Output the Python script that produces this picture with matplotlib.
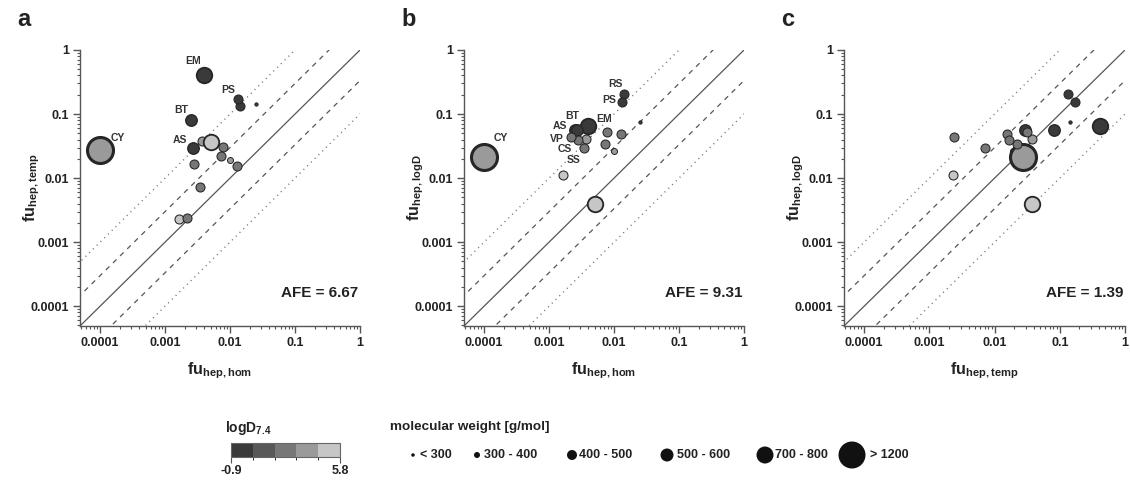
import numpy as np
import matplotlib
matplotlib.use('Agg')
import matplotlib.pyplot as plt
from matplotlib.colors import ListedColormap, BoundaryNorm
from matplotlib.ticker import FixedLocator, LogLocator, NullFormatter
import matplotlib.colorbar as mcolorbar

plt.rcParams['font.family'] = ['Liberation Sans', 'DejaVu Sans']
plt.rcParams['font.weight'] = 'bold'
plt.rcParams['mathtext.fontset'] = 'custom'
plt.rcParams['mathtext.rm'] = 'Liberation Sans:bold'
plt.rcParams['mathtext.bf'] = 'Liberation Sans:bold'
plt.rcParams['mathtext.it'] = 'Liberation Sans:bold'

# ---------------- data ----------------
compounds = ['', 'CY', 'EM', 'RS', 'PS', '', 'BT', 'AS', '', '', '', '', '', '', 'CS', 'SS', 'VP']
fu_hom = [0.0100, 0.0001, 0.0039, 0.0144, 0.0134, 0.0252, 0.0025, 0.0027, 0.00375, 0.0050,
          0.0077, 0.0073, 0.0126, 0.0028, 0.0034, 0.00166, 0.0022]
fu_temp = [0.0194, 0.0275, 0.41, 0.134, 0.171, 0.145, 0.081, 0.0295, 0.0374, 0.037,
           0.031, 0.022, 0.0153, 0.0168, 0.0072, 0.0023, 0.0024]
fu_logd = [0.0268, 0.0214, 0.064, 0.206, 0.155, 0.075, 0.057, 0.0555, 0.0405, 0.0040,
           0.0516, 0.0341, 0.0487, 0.0397, 0.0295, 0.0113, 0.0436]
logD74 = [3.6, 3.4, 0.0, -0.3, -0.8, 0.2, 0.3, 0.4, 3.6, 5.0,
          2.5, 2.3, 2.0, 2.4, 2.6, 4.8, 2.5]
mol_weight = [350, 1202, 734, 481, 424, 250, 551, 558, 450, 750,
              450, 450, 450, 420, 430, 460, 455]

panel_letters = ['a', 'b', 'c']
afe_values = ['6.67', '9.31', '1.39']
x_labels = [r'$\mathbf{fu}_{\mathbf{hep,hom}}$', r'$\mathbf{fu}_{\mathbf{hep,hom}}$', r'$\mathbf{fu}_{\mathbf{hep,temp}}$']
y_labels = [r'$\mathbf{fu}_{\mathbf{hep,temp}}$', r'$\mathbf{fu}_{\mathbf{hep,logD}}$', r'$\mathbf{fu}_{\mathbf{hep,logD}}$']
tick_values = [1e-4, 1e-3, 1e-2, 1e-1, 1]
tick_labels = ['0.0001', '0.001', '0.01', '0.1', '1']
fold_factors = [3, 10]
logd_range = [-0.9, 5.8]
mw_bin_labels = ['< 300', '300 - 400', '400 - 500', '500 - 600', '700 - 800', '> 1200']
mw_bin_edges = [300, 400, 500, 600, 800]

# ---------------- styling ----------------
W, H, DPI = 1130, 484, 100
gray_colors = ['#3a3a3a', '#585858', '#777777', '#9a9a9a', '#c6c6c6']
cmap = ListedColormap(gray_colors)
norm = BoundaryNorm(np.linspace(logd_range[0], logd_range[1], 6), cmap.N)
diam_px = [3.3, 6.0, 9.0, 11.5, 15.5, 26.0]   # marker diameter per MW class


def mw_class(mw):
    return int(np.searchsorted(mw_bin_edges, mw, side='right'))


def size_pt2(cls):
    return (diam_px[cls] * 72.0 / DPI) ** 2


def edge_lw(cls):
    return max(0.7, 0.085 * diam_px[cls])


fig = plt.figure(figsize=(W / DPI, H / DPI), dpi=DPI)
fig.patch.set_facecolor('white')

ax_px = [(80, 360), (464, 744), (844, 1125)]
top_px, bot_px = 50, 326
lim = (10 ** -4.31, 1.0)

panels = [(fu_hom, fu_temp), (fu_hom, fu_logd), (fu_temp, fu_logd)]
label_offsets = [
    {'EM': (-10, 14), 'PS': (-10, 9), 'BT': (-10, 10), 'AS': (-13, 8), 'CY': (18, 12)},
    {'RS': (-9, 10), 'PS': (-13, 2), 'BT': (-3, 14), 'AS': (-17, 4), 'EM': (17, 7),
     'VP': (-14, -2), 'CS': (-19, -1), 'SS': (10, 15), 'CY': (17, 19)},
    {},
]

classes = [mw_class(m) for m in mol_weight]
axis_col = '#555555'

for i, (xs, ys) in enumerate(panels):
    l, r = ax_px[i]
    ax = fig.add_axes([l / W, 1 - bot_px / H, (r - l) / W, (bot_px - top_px) / H])
    ax.set_xscale('log')
    ax.set_yscale('log')
    ax.set_xlim(*lim)
    ax.set_ylim(*lim)
    for s in ['top', 'right']:
        ax.spines[s].set_visible(False)
    for s in ['left', 'bottom']:
        ax.spines[s].set_color(axis_col)
        ax.spines[s].set_linewidth(1.0)

    line_x = np.array([1e-6, 10.0])
    ax.plot(line_x, line_x, color='#555555', lw=0.9, zorder=1)
    ax.plot(line_x, line_x * fold_factors[0], color='#555555', lw=0.9, ls=(0, (4, 4)), zorder=1)
    ax.plot(line_x, line_x / fold_factors[0], color='#555555', lw=0.9, ls=(0, (4, 4)), zorder=1)
    ax.plot(line_x, line_x * fold_factors[1], color='#777777', lw=1.0, ls=(0, (0.8, 3)), zorder=1)
    ax.plot(line_x, line_x / fold_factors[1], color='#777777', lw=1.0, ls=(0, (0.8, 3)), zorder=1)

    for k in range(len(compounds)):
        c = classes[k]
        ax.scatter([xs[k]], [ys[k]], s=size_pt2(c), c=[logD74[k]], cmap=cmap, norm=norm,
                   edgecolors='#262626', linewidths=edge_lw(c), zorder=3 + k * 0.01)
        name = compounds[k]
        if name and name in label_offsets[i]:
            dx, dy = label_offsets[i][name]
            ax.annotate(name, (xs[k], ys[k]), xytext=(dx, dy), textcoords='offset pixels',
                        ha='center', va='center', fontsize=7.5, fontweight='bold',
                        color='#333333', zorder=5)

    ax.xaxis.set_major_locator(FixedLocator(tick_values))
    ax.yaxis.set_major_locator(FixedLocator(tick_values))
    ax.set_xticklabels(tick_labels)
    ax.set_yticklabels(tick_labels)
    ax.xaxis.set_minor_locator(LogLocator(base=10, subs=np.arange(2, 10)))
    ax.yaxis.set_minor_locator(LogLocator(base=10, subs=np.arange(2, 10)))
    ax.xaxis.set_minor_formatter(NullFormatter())
    ax.yaxis.set_minor_formatter(NullFormatter())
    ax.tick_params(which='major', length=5, width=1.0, color=axis_col, labelsize=9,
                   labelcolor='#222222', pad=3)
    ax.tick_params(which='minor', length=2.5, width=0.8, color=axis_col)
    for t in ax.get_xticklabels() + ax.get_yticklabels():
        t.set_fontweight('bold')

    ax.set_xlabel(x_labels[i], fontsize=11.5, color='#222222')
    ax.set_ylabel(y_labels[i], fontsize=11.5, color='#222222')
    ax.xaxis.set_label_coords(0.5, -0.125)
    ax.yaxis.set_label_coords(-0.135, 0.5)

    ax.text(0.995, 0.12, 'AFE = ' + afe_values[i], transform=ax.transAxes, ha='right',
            va='center', fontsize=11, fontweight='bold', color='#222222')
    fig.text((l - 63) / W, 1 - 19 / H, panel_letters[i], fontsize=17, fontweight='bold',
             color='#222222', ha='left', va='center')

# ---------------- legends ----------------
fig.text(225 / W, 1 - 428 / H, r'logD$_{7.4}$', fontsize=10, fontweight='bold',
         color='#222222', ha='left', va='center')
cax = fig.add_axes([231 / W, 1 - 457 / H, 109 / W, 14 / H])
cb = mcolorbar.ColorbarBase(cax, cmap=cmap, norm=norm, orientation='horizontal',
                            ticks=logd_range)
cb.set_ticklabels([f'{v:.1f}' for v in logd_range])
cb.outline.set_edgecolor('#666666')
cb.outline.set_linewidth(0.8)
cax.tick_params(length=4, width=0.8, color='#555555', labelsize=9, labelcolor='#222222', pad=2)
for t in cax.get_xticklabels():
    t.set_fontweight('bold')

fig.text(390 / W, 1 - 427 / H, 'molecular weight [g/mol]', fontsize=9.7, fontweight='bold',
         color='#222222', ha='left', va='center')
lax = fig.add_axes([0, 0, 1, 1], facecolor='none')
lax.set_xlim(0, W)
lax.set_ylim(H, 0)
lax.axis('off')
leg_marker_x = [413, 477, 572, 667, 765, 852]
leg_text_x = [420, 484, 579, 677, 775, 870]
leg_y = 455
leg_diam = [3.5, 6.0, 10.0, 13.0, 17.0, 27.0]
for j, lab in enumerate(mw_bin_labels):
    lax.scatter([leg_marker_x[j]], [leg_y], s=(leg_diam[j] * 72.0 / DPI) ** 2, color='#111111',
                edgecolors='none')
    lax.text(leg_text_x[j], leg_y, lab, fontsize=9, fontweight='bold', color='#222222',
             ha='left', va='center')

fig.savefig('out.png', dpi=DPI, facecolor='white')
